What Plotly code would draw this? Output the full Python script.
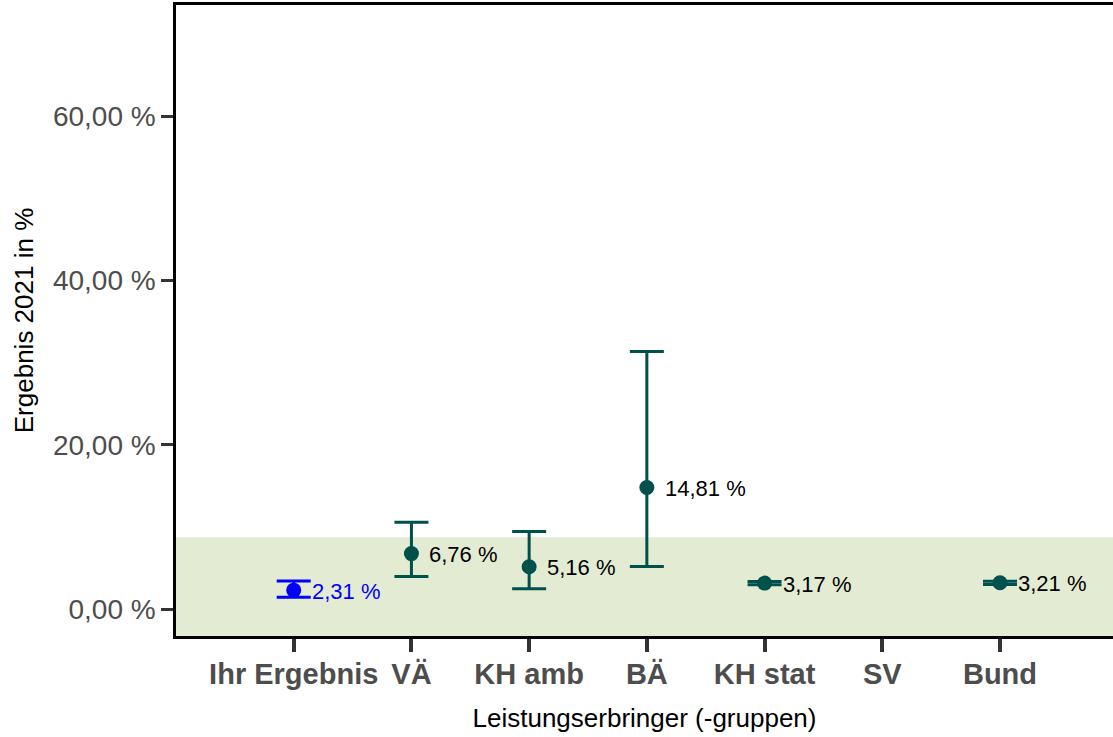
import plotly.graph_objects as go

categories = ["Ihr Ergebnis", "VÄ", "KH amb", "BÄ", "KH stat", "SV", "Bund"]
values = [2.31, 6.76, 5.16, 14.81, 3.17, None, 3.21]
upper = [3.44, 10.59, 9.45, 31.36, 3.37, None, 3.41]
lower = [1.46, 3.97, 2.47, 5.19, 2.97, None, 3.01]
labels = ["2,31 %", "6,76 %", "5,16 %", "14,81 %", "3,17 %", None, "3,21 %"]
ytick_vals = [0, 20, 40, 60]
ytick_text = ["0,00 %", "20,00 %", "40,00 %", "60,00 %"]
ref_upper = 8.76

TEAL = "#00504B"
BLUE = "#0000FF"
FONT = "Liberation Sans, Arial, sans-serif"

xs = list(range(len(categories)))

fig = go.Figure()

def add_series(idx, color):
    x = [xs[i] for i in idx]
    y = [values[i] for i in idx]
    ep = [upper[i] - values[i] for i in idx]
    em = [values[i] - lower[i] for i in idx]
    fig.add_trace(go.Scatter(
        x=x, y=y, mode="markers",
        marker=dict(color=color, size=15),
        error_y=dict(type="data", symmetric=False, array=ep, arrayminus=em,
                     color=color, thickness=3, width=17),
        showlegend=False, hoverinfo="skip",
    ))

add_series([0], BLUE)
add_series([i for i in range(1, len(categories)) if values[i] is not None], TEAL)

for i in xs:
    if values[i] is None:
        continue
    fig.add_annotation(
        x=xs[i], y=values[i], text=labels[i], showarrow=False,
        xanchor="left", yanchor="middle", xshift=16, yshift=-1,
        font=dict(family=FONT, size=22, color=BLUE if i == 0 else "black"),
    )

fig.add_shape(type="rect", xref="paper", x0=0, x1=1, yref="y", y0=-20, y1=ref_upper,
              fillcolor="#E3EBD2", line=dict(width=0), layer="below")

fig.update_layout(
    width=1113, height=737,
    margin=dict(l=176, r=0, t=5, b=101),
    plot_bgcolor="white", paper_bgcolor="white",
    font=dict(family=FONT),
    xaxis=dict(
        range=[-1, 6.96], tickvals=xs,
        ticktext=[f"<b>{c}</b>" for c in categories],
        tickfont=dict(size=29, color="#4D4D4D", family=FONT),
        showgrid=False, zeroline=False,
        showline=True, linecolor="black", linewidth=2.5, mirror=True,
        ticks="outside", ticklen=13, tickwidth=4, tickcolor="#333333",
        ticklabelstandoff=-3,
        title=dict(text="Leistungserbringer (-gruppen)",
                   font=dict(size=26, color="black", family=FONT), standoff=21),
    ),
    yaxis=dict(
        range=[-3.27, 73.56], tickvals=ytick_vals, ticktext=ytick_text,
        tickfont=dict(size=28, color="#4D4D4D", family=FONT),
        showgrid=False, zeroline=False,
        showline=True, linecolor="black", linewidth=2.5,
        ticks="outside", ticklen=12, tickwidth=3, tickcolor="#333333",
        title=dict(text="Ergebnis 2021 in %",
                   font=dict(size=26, color="black", family=FONT), standoff=12),
    ),
)

fig.write_html("out.html", config={"displayModeBar": False},
               post_script="document.body.style.margin='0';document.body.style.overflow='hidden';")
